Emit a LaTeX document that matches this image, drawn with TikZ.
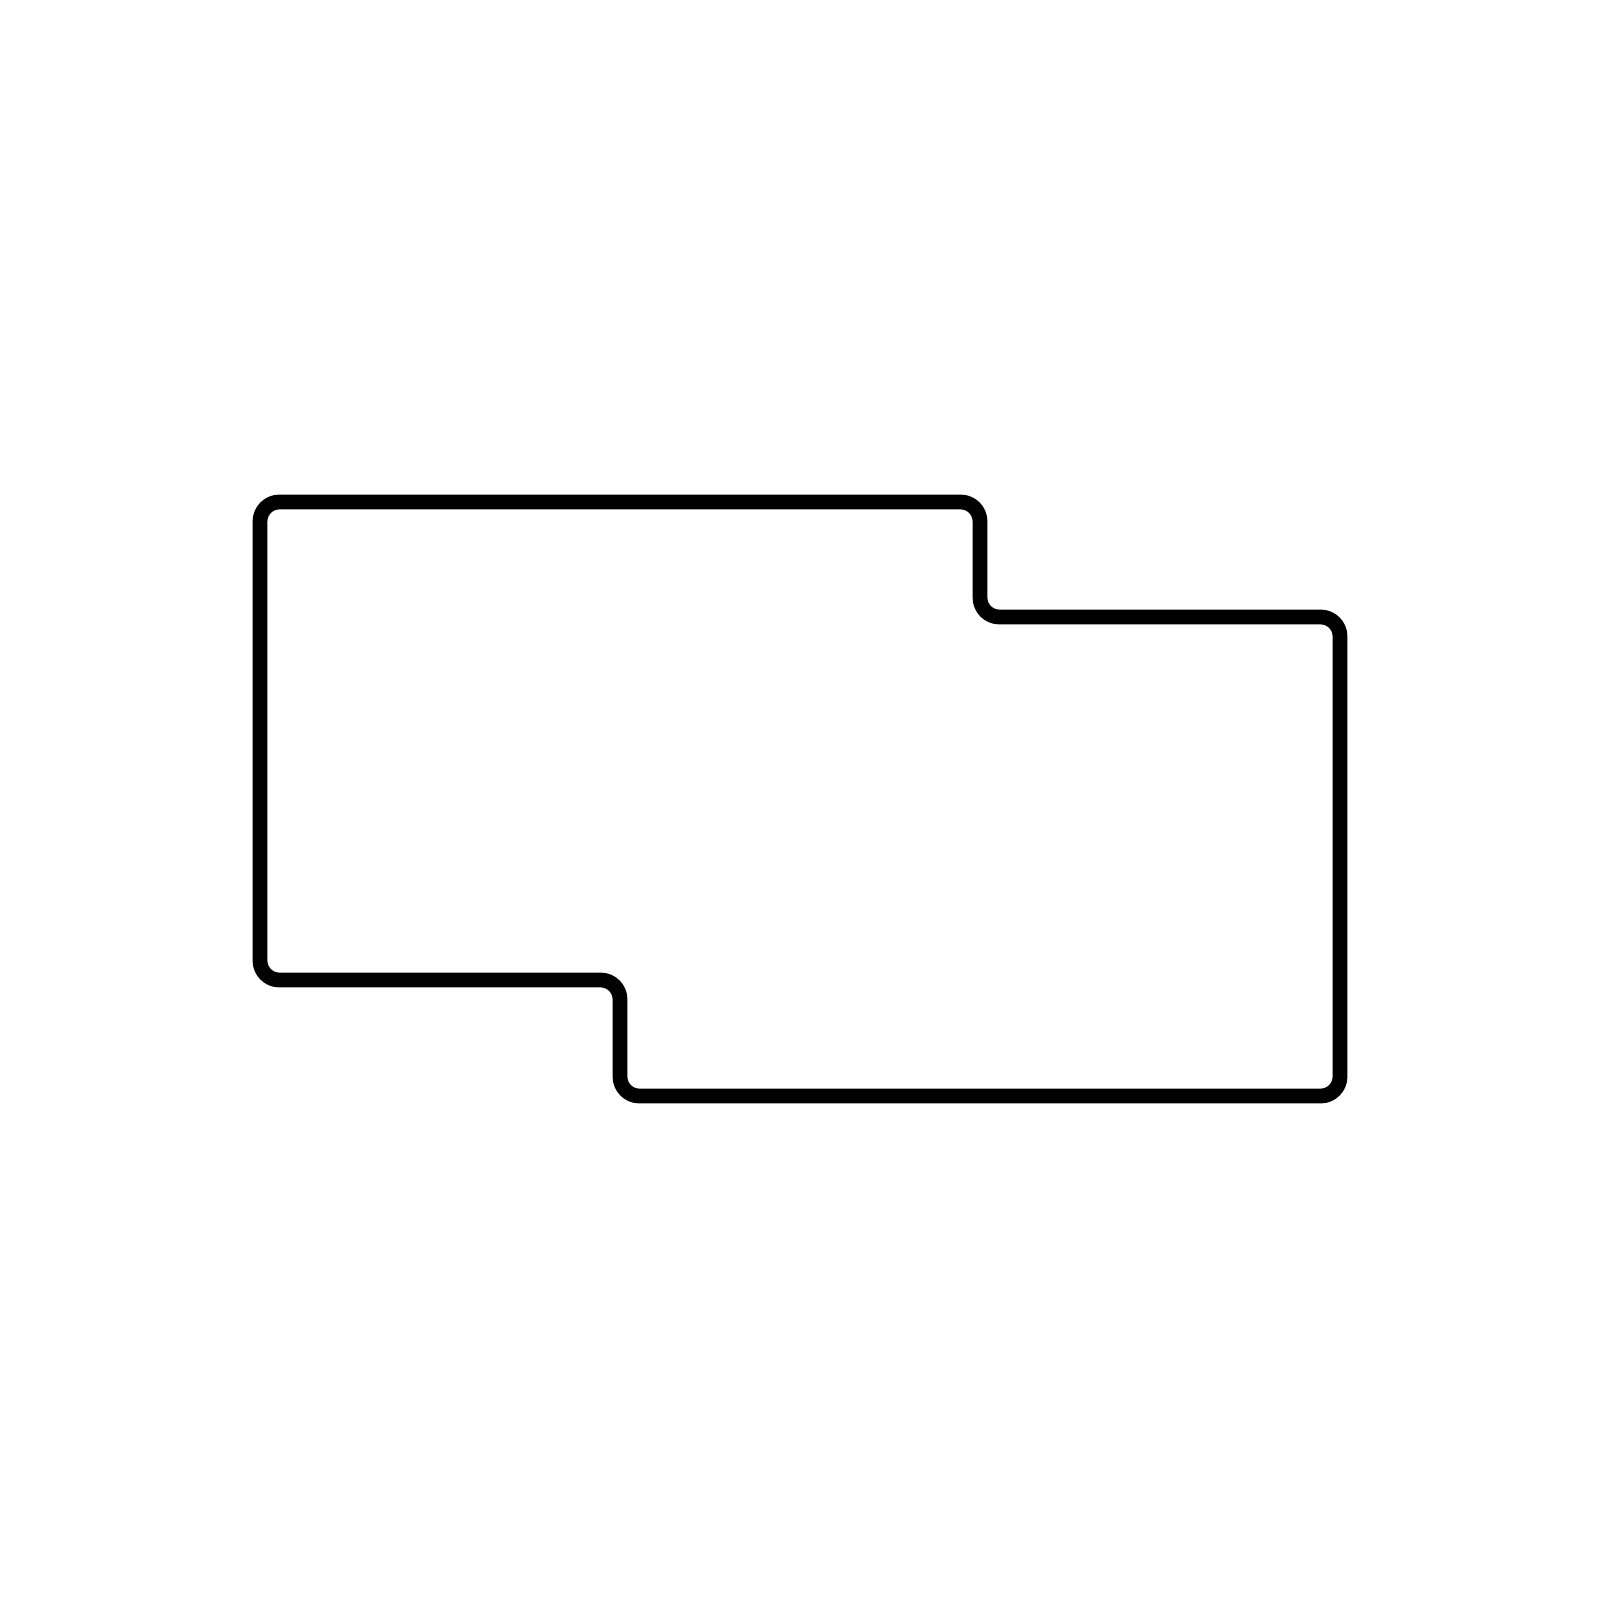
\documentclass[tikz,border=0pt]{standalone}
\begin{document}
\begin{tikzpicture}[x=0.01cm,y=-0.01cm,
  outline/.style={draw=black,line width=4.2pt,rounded corners=5.5pt}]
\useasboundingbox (0,0) rectangle (1600,1600);
\draw[outline] (260,502) -- (980,502) -- (980,617) -- (1340,617) -- (1340,1096)
  -- (620,1096) -- (620,980) -- (260,980) -- cycle;
\end{tikzpicture}
\end{document}
